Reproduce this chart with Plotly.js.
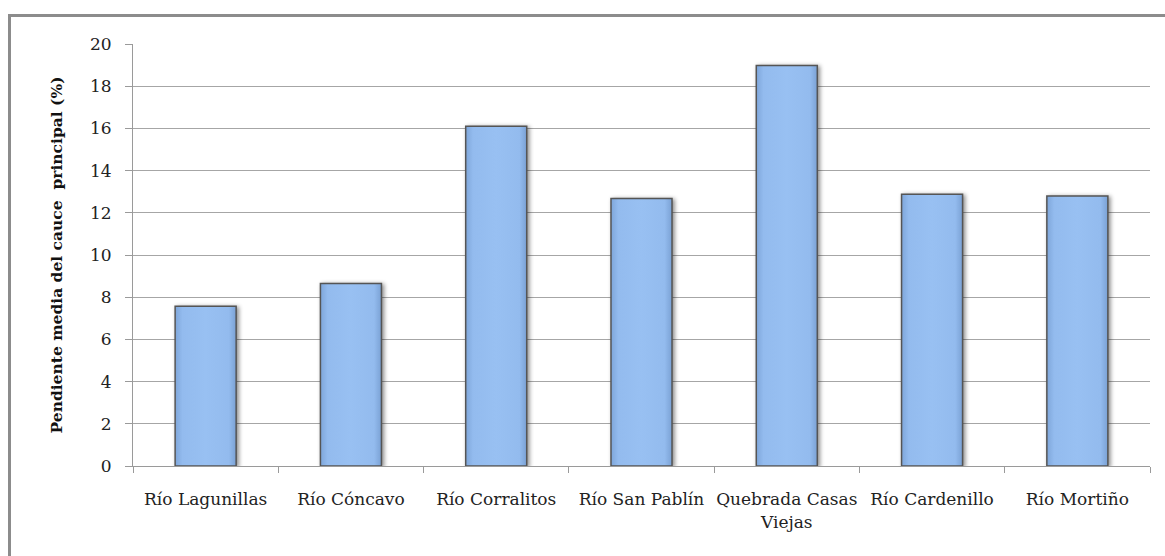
<!DOCTYPE html>
<html>
<head>
<meta charset="utf-8">
<script src="https://cdn.plot.ly/plotly-3.0.1.min.js"></script>
<style>
  html, body { margin: 0; padding: 0; background: #fff; }
  #wrap { position: relative; width: 1165px; height: 556px; overflow: hidden; }
  #chart { position: absolute; left: 0; top: 0; width: 1165px; height: 556px; }
  #frame { position: absolute; left: 8px; top: 14px; right: -10px; bottom: -10px;
           border-top: 3px solid #8c8c8c; border-left: 3px solid #8c8c8c; pointer-events: none; }
  .trace.bars .point path { filter: drop-shadow(2px 1px 2px rgba(0,0,0,0.45)); }
</style>
</head>
<body>
<div id="wrap">
  <div id="chart"></div>
  <div id="frame"></div>
</div>
<script>
const categories = ["Río Lagunillas", "Río Cóncavo", "Río Corralitos", "Río San Pablín",
                    "Quebrada Casas<br>Viejas", "Río Cardenillo", "Río Mortiño"];
const pendiente = [7.57, 8.65, 16.1, 12.68, 18.98, 12.88, 12.8];
const yTicks = [0, 2, 4, 6, 8, 10, 12, 14, 16, 18, 20];
const yTitle = "Pendiente media del cauce  principal (%)";

const font = "DejaVu Serif, Liberation Serif, serif";

const trace = {
  type: "bar",
  x: categories,
  y: pendiente,
  width: 0.42,
  marker: { color: "#95bdf0", line: { color: "#555555", width: 1.5 } },
  hoverinfo: "x+y"
};

const layout = {
  width: 1165, height: 556,
  margin: { l: 133, r: 15, t: 44, b: 90 },
  paper_bgcolor: "rgba(0,0,0,0)",
  plot_bgcolor: "#ffffff",
  showlegend: false,
  font: { family: font, size: 16, color: "#222" },
  xaxis: {
    type: "category",
    tickson: "boundaries",
    tickangle: 0,
    ticks: "outside", ticklen: 6, tickcolor: "#9a9a9a", tickwidth: 1,
    showline: true, linecolor: "#9a9a9a", linewidth: 1,
    showgrid: false,
    tickfont: { family: font, size: 17, color: "#222" },
    ticklabelstandoff: 18
  },
  yaxis: {
    range: [0, 20],
    tickvals: yTicks,
    ticktext: yTicks.map(String),
    ticks: "outside", ticklen: 7, tickcolor: "#9a9a9a", tickwidth: 1,
    showline: true, linecolor: "#9a9a9a", linewidth: 1,
    showgrid: true, gridcolor: "#a6a6a6", gridwidth: 1,
    zeroline: false,
    tickfont: { family: font, size: 17, color: "#222" },
    ticklabelstandoff: 10,
    title: { text: "<b>" + yTitle + "</b>", font: { family: font, size: 15.5, color: "#111" }, standoff: 23 }
  },
  bargap: 0.58
};

Plotly.newPlot("chart", [trace], layout, { displayModeBar: false, staticPlot: true }).then(function (gd) {
  const svg = gd.querySelector("svg.main-svg");
  const ns = "http://www.w3.org/2000/svg";
  let defs = svg.querySelector("defs");
  if (!defs) { defs = document.createElementNS(ns, "defs"); svg.insertBefore(defs, svg.firstChild); }
  const g = document.createElementNS(ns, "linearGradient");
  g.setAttribute("id", "barGrad");
  g.setAttribute("x1", "0"); g.setAttribute("y1", "0"); g.setAttribute("x2", "1"); g.setAttribute("y2", "0");
  [["0", "#7ea6da"], ["0.12", "#93bbee"], ["0.5", "#98c0f2"], ["0.88", "#93bbee"], ["1", "#7aa1d4"]].forEach(function (s) {
    const st = document.createElementNS(ns, "stop");
    st.setAttribute("offset", s[0]); st.setAttribute("stop-color", s[1]);
    g.appendChild(st);
  });
  defs.appendChild(g);
  gd.querySelectorAll(".trace.bars .point path").forEach(function (p) { p.style.fill = "url(#barGrad)"; });
});
</script>
</body>
</html>
